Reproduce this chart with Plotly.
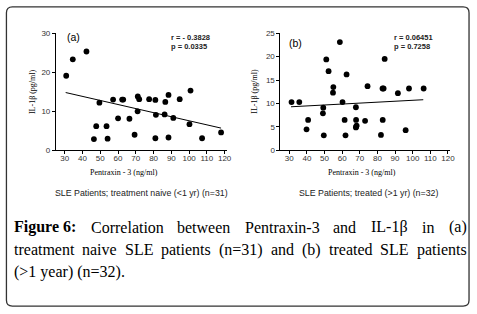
import plotly.graph_objects as go

# ---------------- data ----------------
a_x = [30.8, 34.5, 42.2, 49.5, 47.7, 46.4, 53.5, 54.1, 57.2, 60.0, 62.3, 62.9, 66.4, 69.3, 71.0,
       71.1, 71.9, 77.5, 81.0, 81.3, 81.0, 86.2, 86.6, 88.4, 88.4, 91.1, 94.7, 100.8, 100.2, 107.3, 118.0]
a_y = [19.1, 23.3, 25.3, 12.2, 6.2, 2.9, 6.2, 3.0, 13.0, 8.2, 13.0, 13.0, 8.1, 4.0, 10.0,
       13.8, 13.1, 13.1, 12.9, 9.1, 3.1, 9.2, 12.4, 14.2, 3.3, 8.3, 13.1, 15.3, 6.7, 3.1, 4.6]
a_fit_x = [30.5, 118.0]
a_fit_y = [14.8, 5.7]

b_x = [31.3, 35.7, 40.7, 39.8, 49.3, 49.1, 49.6, 51.0, 52.3, 55.0, 54.8, 58.7, 60.2, 62.5, 61.4, 61.9,
       67.8, 67.9, 68.2, 67.8, 73.0, 74.4, 82.9, 83.5, 84.1, 83.0, 82.0, 91.6, 97.9, 96.0, 106.2, 68.0]
b_y = [10.3, 10.3, 6.5, 4.5, 9.1, 7.9, 3.2, 19.4, 16.9, 13.5, 12.3, 23.1, 10.3, 16.2, 6.5, 3.2,
       9.2, 6.5, 5.3, 4.9, 6.3, 13.7, 13.2, 13.2, 19.5, 6.5, 3.3, 12.2, 13.2, 4.3, 13.2, 5.1]
b_fit_x = [31.0, 106.0]
b_fit_y = [9.3, 10.8]

x_ticks = [30, 40, 50, 60, 70, 80, 90, 100, 110, 120]
a_y_ticks = [0, 10, 20, 30]
b_y_ticks = [0, 5, 10, 15, 20, 25]

stat_a = ["r = - 0.3828", "p = 0.0335"]
stat_b = ["r = 0.06451", "p = 0.7258"]
x_title = "Pentraxin - 3 (ng/ml)"
y_title = "IL-1β (pg/ml)"
sub_a = "SLE Patients; treatment naive (&lt;1 yr) (n=31)"
sub_b = "SLE Patients; treated (&gt;1 yr) (n=32)"
cap_line1 = [("<b>Figure 6:</b>", "Figure 6:", True), "Correlation", "between", "Pentraxin-3", "and",
             "IL-1β", "in", "(a)"]
cap_line2 = ["treatment", "naive", "SLE", "patients", "(n=31)", "and", "(b)", "treated", "SLE", "patients"]
cap_line3 = "(&gt;1 year) (n=32)."

# ---------------- layout helpers ----------------
W, H = 477, 314
def X(px):
    return px / W
def Y(py):
    return 1 - py / H

# Times / Liberation Serif metrics (per 1000 em)
TR = {' ': 250, '(': 333, ')': 333, '-': 333, '.': 250, ':': 278, '=': 564, '>': 564, '<': 564, 'β': 500}
for d in '0123456789':
    TR[d] = 500
TR.update(dict(a=444, b=500, c=444, d=500, e=444, f=333, g=500, h=500, i=278, j=278, k=500, l=278,
               m=778, n=500, o=500, p=500, q=500, r=333, s=389, t=278, u=500, v=500, w=722, x=500,
               y=500, z=444))
TR.update(dict(A=722, B=667, C=667, D=722, E=611, F=556, G=722, H=722, I=333, J=389, K=722, L=611,
               M=889, N=722, O=722, P=556, Q=722, R=667, S=556, T=611, U=722, V=722, W=944, X=722,
               Y=722, Z=611))
TB = dict(TR)
TB.update({'F': 611, 'u': 556, 'r': 444, ':': 333})

CAP_SIZE = 16
def text_w(s, bold=False):
    tab = TB if bold else TR
    return sum(tab.get(c, 500) for c in s) / 1000 * CAP_SIZE

fig = go.Figure()

mk = dict(color="black", size=5.8)
fig.add_trace(go.Scatter(x=a_x, y=a_y, mode="markers", marker=mk, xaxis="x", yaxis="y", showlegend=False))
fig.add_trace(go.Scatter(x=a_fit_x, y=a_fit_y, mode="lines", line=dict(color="black", width=1),
                         xaxis="x", yaxis="y", showlegend=False))
fig.add_trace(go.Scatter(x=b_x, y=b_y, mode="markers", marker=mk, xaxis="x2", yaxis="y2", showlegend=False))
fig.add_trace(go.Scatter(x=b_fit_x, y=b_fit_y, mode="lines", line=dict(color="black", width=1),
                         xaxis="x2", yaxis="y2", showlegend=False))

tickfont = dict(family="Liberation Sans, Arial", size=8, color="#333")
ax_common = dict(showline=True, linecolor="black", linewidth=1, ticks="outside", ticklen=3,
                 tickcolor="black", tickwidth=1, showgrid=False, zeroline=False, tickfont=tickfont)
ydom = [Y(150.7), Y(30)]
fig.update_layout(
    width=W, height=H, margin=dict(l=0, r=0, t=0, b=0),
    paper_bgcolor="white", plot_bgcolor="white",
    xaxis=dict(domain=[X(56.5), X(229.7)], range=[25, 121.5], tickvals=x_ticks, anchor="y",
               ticklabelstandoff=-3, **ax_common),
    yaxis=dict(domain=ydom, range=[0, 30], tickvals=a_y_ticks, anchor="x", **ax_common),
    xaxis2=dict(domain=[X(283.4), X(454.5)], range=[25, 121], tickvals=x_ticks, anchor="y2",
                ticklabelstandoff=-3, **ax_common),
    yaxis2=dict(domain=ydom, range=[0, 25], tickvals=b_y_ticks, anchor="x2", **ax_common),
)

ann = []
def A(text, px, py, size, family="Liberation Sans, Arial", xanchor="center", angle=0, color="black"):
    ann.append(dict(text=text, x=X(px), y=Y(py), xref="paper", yref="paper", showarrow=False,
                    xanchor=xanchor, yanchor="middle", textangle=angle,
                    font=dict(family=family, size=size, color=color)))

serif = "Liberation Serif, Times New Roman, serif"
# panel labels & stats
A("(a)", 74, 34, 10.5)
A("(b)", 299, 40, 10.5)
A("<b>" + stat_a[0] + "</b>", 171, 34, 7.5, xanchor="left", color="#222")
A("<b>" + stat_a[1] + "</b>", 171, 44, 7.5, xanchor="left", color="#222")
A("<b>" + stat_b[0] + "</b>", 396, 34, 7.5, xanchor="left", color="#222")
A("<b>" + stat_b[1] + "</b>", 396, 44, 7.5, xanchor="left", color="#222")
# axis titles
A(y_title, 33, 90, 8, family=serif, angle=-90)
A(y_title, 257, 90, 8, family=serif, angle=-90)
A(x_title, 125, 173, 8, family=serif)
A(x_title, 366, 173, 8, family=serif)
# subtitles
A(sub_a, 143, 195, 8.8, color="#222")
A(sub_b, 372, 195, 8.8, color="#222")

# justified caption
def justify(words, py, x0=12, x1=469):
    items = []
    for w in words:
        if isinstance(w, tuple):
            items.append((w[0], text_w(w[1], w[2])))
        else:
            items.append((w, text_w(w)))
    total = sum(wd for _, wd in items)
    gap = (x1 - x0 - total) / (len(items) - 1)
    x = x0
    for t, wd in items:
        A(t, x, py, CAP_SIZE, family=serif, xanchor="left")
        x += wd + gap

justify(cap_line1, 230)
justify(cap_line2, 253)
A(cap_line3, 12, 275.5, CAP_SIZE, family=serif, xanchor="left")

fig.update_layout(annotations=ann)

# rounded border box
l, r, t, b, rad = 6.5, 474, 3, 311, 6
def P(px, py):
    return f"{X(px):.5f},{Y(py):.5f}"
path = (f"M {P(l + rad, t)} L {P(r - rad, t)} Q {P(r, t)} {P(r, t + rad)} "
        f"L {P(r, b - rad)} Q {P(r, b)} {P(r - rad, b)} L {P(l + rad, b)} Q {P(l, b)} {P(l, b - rad)} "
        f"L {P(l, t + rad)} Q {P(l, t)} {P(l + rad, t)} Z")
fig.add_shape(type="path", path=path, xref="paper", yref="paper",
              line=dict(color="#333", width=1.3), fillcolor="rgba(0,0,0,0)", layer="below")

fig.write_html("out.html", config={"displayModeBar": False},
               post_script="document.body.style.margin='0';document.body.style.overflow='hidden';")
